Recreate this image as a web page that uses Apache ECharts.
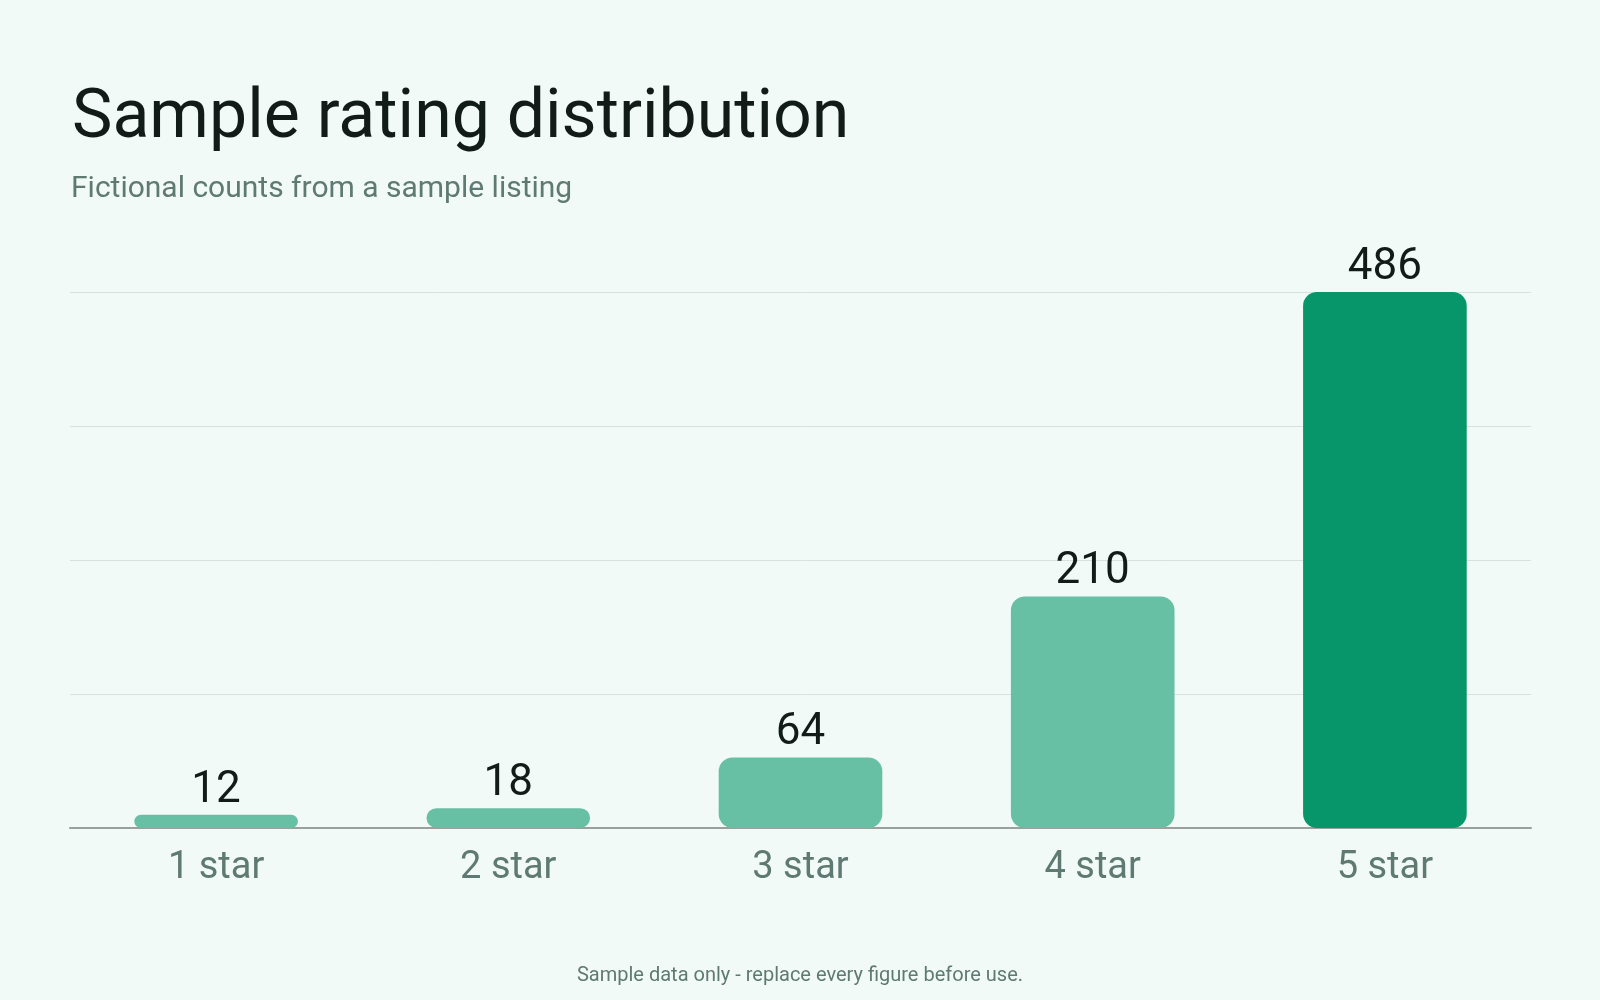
<!DOCTYPE html>
<html>
<head>
<meta charset="utf-8">
<title>Sample rating distribution</title>
<script src="https://cdn.jsdelivr.net/npm/echarts@6/dist/echarts.min.js"></script>
<style>
  html, body { margin: 0; padding: 0; background: #f1faf7; }
  #chart { width: 1600px; height: 1000px; }
</style>
</head>
<body>
<div id="chart"></div>
<script>
const categories = ['1 star', '2 star', '3 star', '4 star', '5 star'];
const counts = [12, 18, 64, 210, 486];
const highlightIndex = 4;

const FONT = 'Roboto, "Noto Sans", sans-serif';
const lightGreen = '#68c0a4';
const darkGreen = '#06966a';

const chart = echarts.init(document.getElementById('chart'));

chart.setOption({
  backgroundColor: '#f1faf7',
  animation: false,
  title: [
    {
      text: 'Sample rating distribution',
      left: 67,
      top: 81,
      textStyle: { fontFamily: FONT, fontSize: 68, fontWeight: 400, color: '#111c18' },
    },
    {
      text: 'Fictional counts from a sample listing',
      left: 66,
      top: 169,
      textStyle: { fontFamily: FONT, fontSize: 30, fontWeight: 400, color: '#5f7a72' },
    },
    {
      text: 'Sample data only - replace every figure before use.',
      left: 'center',
      top: 961,
      textStyle: { fontFamily: FONT, fontSize: 20, fontWeight: 400, color: '#5f7a72' },
    },
  ],
  grid: { left: 70, right: 69, top: 292, bottom: 172 },
  xAxis: {
    type: 'category',
    data: categories,
    axisTick: { show: false },
    axisLine: { lineStyle: { color: '#9aa09c', width: 2 } },
    axisLabel: { fontFamily: FONT, fontSize: 38, color: '#5f7a72', margin: 21 },
  },
  yAxis: {
    type: 'value',
    min: 0,
    max: 486,
    interval: 121.5,
    axisLabel: { show: false },
    axisLine: { show: false },
    axisTick: { show: false },
    splitLine: { lineStyle: { color: '#d6e2dd', width: 1 } },
  },
  series: [
    {
      type: 'bar',
      barWidth: '56%',
      data: counts.map((v, i) => ({
        value: v,
        itemStyle: { color: i === highlightIndex ? darkGreen : lightGreen },
      })),
      itemStyle: { borderRadius: 14 },
      label: {
        show: true,
        position: 'top',
        distance: 2,
        fontFamily: FONT,
        fontSize: 44,
        color: '#111c18',
      },
    },
  ],
});
</script>
</body>
</html>
